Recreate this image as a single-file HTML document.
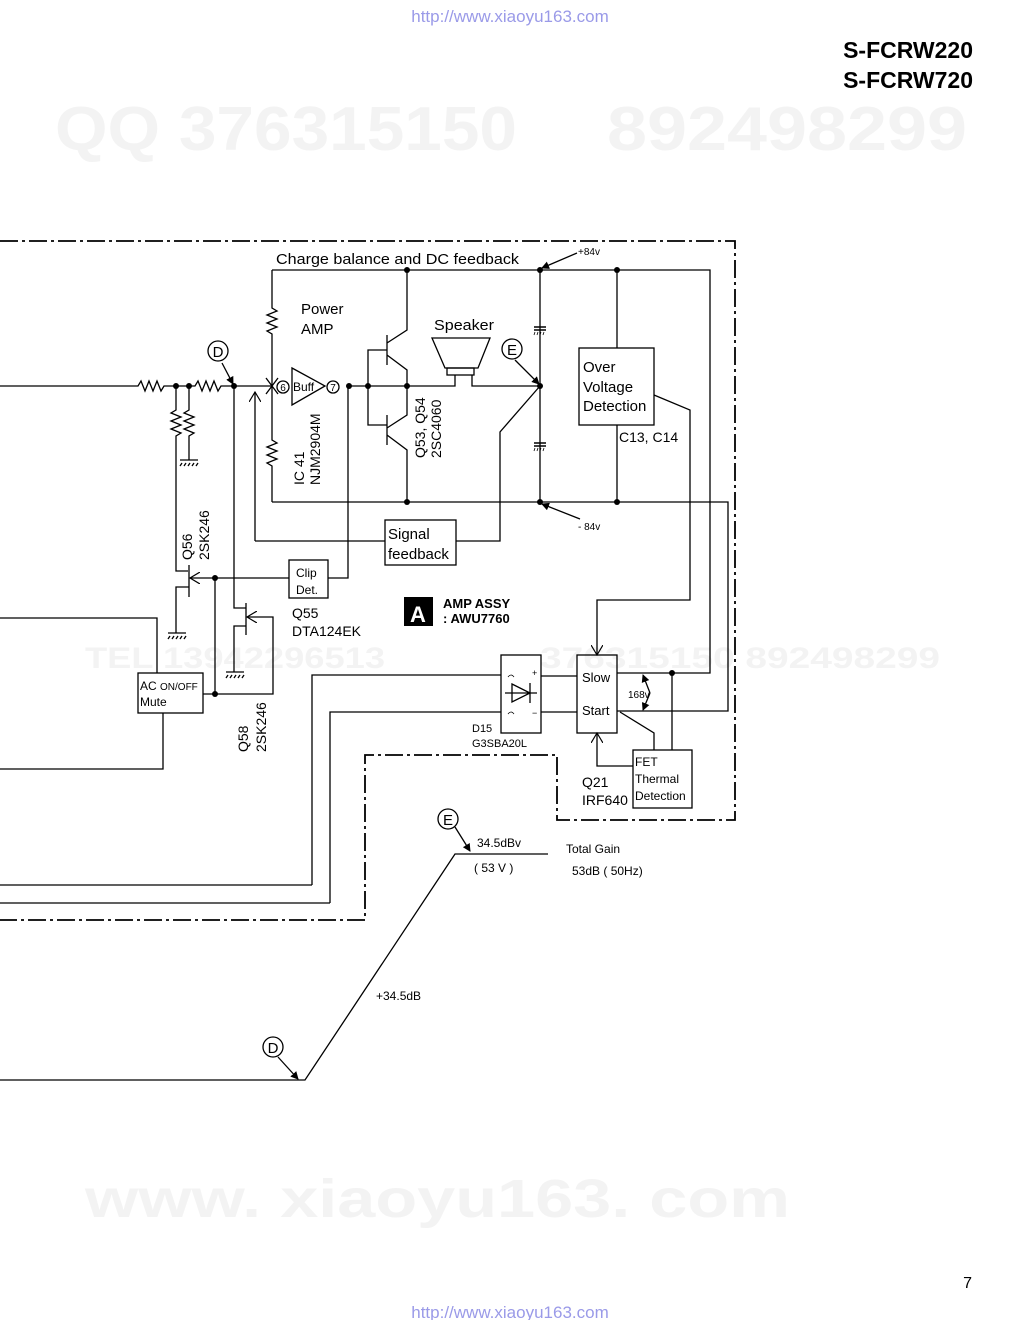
<!DOCTYPE html>
<html><head><meta charset="utf-8"><style>
body{margin:0;background:#fff}
svg{display:block}
text{font-family:"Liberation Sans",sans-serif;fill:#000}
</style></head><body>
<svg width="1020" height="1320" viewBox="0 0 1020 1320" xmlns="http://www.w3.org/2000/svg">
<defs>
<marker id="ah" markerWidth="8" markerHeight="8" refX="7" refY="4" orient="auto" markerUnits="userSpaceOnUse"><path d="M0,0 L8,4 L0,8 z" fill="#000"/></marker>
<marker id="av" markerWidth="12" markerHeight="12" refX="10" refY="6" orient="auto" markerUnits="userSpaceOnUse"><path d="M0,0 L10,6 L0,12" fill="none" stroke="#000" stroke-width="1.2"/></marker>
</defs>
<!-- watermark -->
<text x="55" y="150" font-size="62" font-weight="bold" textLength="462" lengthAdjust="spacingAndGlyphs" style="fill:#f3f3f3">QQ 376315150</text>
<text x="607" y="150" font-size="62" font-weight="bold" textLength="360" lengthAdjust="spacingAndGlyphs" style="fill:#f3f3f3">892498299</text>
<text x="85" y="1217" font-size="54" font-weight="bold" textLength="705" lengthAdjust="spacingAndGlyphs" style="fill:#f3f3f3">www. xiaoyu163. com</text>
<text x="85" y="668" font-size="30" font-weight="bold" textLength="300" lengthAdjust="spacingAndGlyphs" style="fill:#f3f3f3">TEL 13942296513</text>
<text x="540" y="668" font-size="30" font-weight="bold" textLength="400" lengthAdjust="spacingAndGlyphs" style="fill:#f3f3f3">376315150  892498299</text>

<text x="510" y="22" font-size="17" text-anchor="middle" style="fill:#9a9ae8">http://www.xiaoyu163.com</text>
<text x="510" y="1318" font-size="17" text-anchor="middle" style="fill:#9a9ae8">http://www.xiaoyu163.com</text>
<text x="973" y="58" font-size="23" font-weight="bold" text-anchor="end">S-FCRW220</text>
<text x="973" y="88" font-size="23" font-weight="bold" text-anchor="end">S-FCRW720</text>
<text x="972" y="1288" font-size="16" text-anchor="end">7</text>

<g fill="none" stroke="#000" stroke-width="1.3">
<path d="M0,241 H735 V820 H557 V755 H365 V920 H0" stroke-width="1.8" stroke-dasharray="18,4,3,4"/>
<path d="M272,270 H710 V673 H617"/>
<path d="M272,502 H728 V711 H617"/>
<path d="M540,270 V502"/>
<path d="M617,270 V348 M617,425 V502"/>
<rect x="579" y="348" width="75" height="77"/>
<path d="M654,395 L690,410 V600 H597 V655" marker-end="url(#av)"/>
<path d="M272,270 V308 l5,3 l-10,4 l10,4 l-10,4 l10,4 l-10,4 l5,3 V440 l5,3 l-10,4 l10,4 l-10,4 l10,4 l-10,4 l5,3 V502"/>
<path d="M407,270 V330 L387,343 M387,335 V365 M387,355 L407,370 V386 V415 L387,428 M387,415 V445 M387,435 L407,450 V502"/>
<path d="M387,350 H368 V425 H387"/>
<path d="M349,386 H407 M455,375 V386 H407 M472,375 V386 H540"/>
<path d="M432,338 H490 L478,368 H445 Z"/>
<rect x="447" y="368" width="27" height="7"/>
<path d="M534,327 H546 M534,330 H546 M534,443 H546 M534,446 H546" stroke-width="1.5"/>
<path d="M535,332 l-1,3 M538,332 l-1,3 M541,332 l-1,3 M544,332 l-1,3 M535,448 l-1,3 M538,448 l-1,3 M541,448 l-1,3 M544,448 l-1,3" stroke-width="0.8"/>
<path d="M0,386 H138 l3,-5 l4,10 l4,-10 l4,10 l4,-10 l4,10 l3,-5 H195 l3,-5 l4,10 l4,-10 l4,10 l4,-10 l4,10 l3,-5 H272"/>
<path d="M176,386 V410 l-5,3 l10,4 l-10,4 l10,4 l-10,4 l10,4 l-5,3 V571 H188"/>
<path d="M189,386 V410 l-5,3 l10,4 l-10,4 l10,4 l-10,4 l10,4 l-5,3 V460"/>
<path d="M180,460 H198 M182,463 L180,466 M186,463 L184,466 M190,463 L188,466 M194,463 L192,466 M198,463 L196,466"/>
<path d="M266,378 L278,394 M278,378 L266,394"/>
<path d="M292,368 L325,386 L292,405 Z"/>
<circle cx="283" cy="387" r="6"/><circle cx="333" cy="387" r="6"/>
<path d="M255,541 V392" marker-end="url(#av)"/>
<path d="M255,541 H385"/>
<rect x="385" y="520" width="71" height="45"/>
<path d="M456,541 H500 V432 L540,386"/>
<rect x="289" y="560" width="39" height="38"/>
<path d="M328,578 H348 V386"/>
<path d="M289,578 H190" marker-end="url(#av)"/>
<path d="M189,565 V597 M189,587 H176 V633"/>
<path d="M168,633 H186 M170,636 L168,639 M174,636 L172,639 M178,636 L176,639 M182,636 L180,639 M186,636 L184,639"/>
<path d="M215,578 V694 H203 M215,694 H273 V617 H247" marker-end="url(#av)"/>
<path d="M234,386 V608 H246 M246,603 V635 M246,626 H234 V672"/>
<path d="M226,672 H244 M228,675 L226,678 M232,675 L230,678 M236,675 L234,678 M240,675 L238,678 M244,675 L242,678"/>
<rect x="138" y="673" width="65" height="40"/>
<path d="M0,618 H157 V673 M163,713 V769 H0"/>
<rect x="501" y="655" width="40" height="78"/>
<path d="M312,885 V675 H501 M0,885 H312 M330,903 V712 H501 M0,903 H330"/>
<path d="M541,676 H577 M541,712 H577"/>
<path d="M512,684 L530,693 L512,702 Z M505,693 H537 M530,683 V703"/>
<path d="M508,677 q3,-4 6,0 M508,714 q3,-4 6,0" stroke-width="0.8"/>
<rect x="577" y="655" width="40" height="78"/>
<rect x="633" y="750" width="59" height="58"/>
<path d="M672,673 V750 M620,712 L654,733 V750"/>
<path d="M633,766 H597 V733" marker-end="url(#av)"/>
<path d="M650,693 L643,675" marker-end="url(#ah)"/>
<path d="M650,693 L643,710" marker-end="url(#ah)"/>
<path d="M577,253 L542,268" marker-end="url(#ah)"/>
<path d="M580,519 L542,504" marker-end="url(#ah)"/>
<path d="M515,360 L539,384" marker-end="url(#ah)"/>
<path d="M222,363 L233,384" marker-end="url(#ah)"/>
<path d="M0,1080 H305 L455,854 H548"/>
<path d="M455,827 L470,851" marker-end="url(#ah)"/>
<path d="M278,1057 L298,1079" marker-end="url(#ah)"/>
<circle cx="218" cy="351" r="10"/><circle cx="512" cy="349" r="10"/>
<circle cx="448" cy="819" r="10"/><circle cx="273" cy="1047" r="10"/>
</g>
<g fill="#000">
<circle cx="540" cy="270" r="3"/><circle cx="617" cy="270" r="3"/><circle cx="407" cy="270" r="3"/>
<circle cx="540" cy="386" r="3"/><circle cx="540" cy="502" r="3"/><circle cx="617" cy="502" r="3"/><circle cx="407" cy="502" r="3"/>
<circle cx="407" cy="386" r="3"/><circle cx="368" cy="386" r="3"/><circle cx="349" cy="386" r="3"/>
<circle cx="176" cy="386" r="3"/><circle cx="189" cy="386" r="3"/><circle cx="234" cy="386" r="3"/>
<circle cx="215" cy="578" r="3"/><circle cx="215" cy="694" r="3"/><circle cx="672" cy="673" r="3"/>
</g>
<text x="276" y="264" font-size="15" textLength="243" lengthAdjust="spacingAndGlyphs">Charge balance and DC feedback</text>
<text x="578" y="255" font-size="10">+84v</text>
<text x="578" y="530" font-size="10">- 84v</text>
<text x="301" y="314" font-size="15">Power</text>
<text x="301" y="334" font-size="15">AMP</text>
<text x="434" y="330" font-size="15" textLength="60" lengthAdjust="spacingAndGlyphs">Speaker</text>
<text x="218" y="357" font-size="15" text-anchor="middle">D</text>
<text x="512" y="355" font-size="15" text-anchor="middle">E</text>
<text x="448" y="825" font-size="15" text-anchor="middle">E</text>
<text x="273" y="1053" font-size="15" text-anchor="middle">D</text>
<text x="283" y="391" font-size="10" text-anchor="middle">6</text>
<text x="333" y="391" font-size="10" text-anchor="middle">7</text>
<text x="293" y="391" font-size="12">Buff</text>
<text transform="translate(304,485) rotate(-90)" font-size="14">IC 41</text>
<text transform="translate(320,485) rotate(-90)" font-size="14">NJM2904M</text>
<text transform="translate(425,458) rotate(-90)" font-size="14">Q53, Q54</text>
<text transform="translate(441,458) rotate(-90)" font-size="14">2SC4060</text>
<text transform="translate(192,560) rotate(-90)" font-size="14">Q56</text>
<text transform="translate(209,560) rotate(-90)" font-size="14">2SK246</text>
<text transform="translate(248,752) rotate(-90)" font-size="14">Q58</text>
<text transform="translate(266,752) rotate(-90)" font-size="14">2SK246</text>
<text x="583" y="372" font-size="15">Over</text>
<text x="583" y="392" font-size="15">Voltage</text>
<text x="583" y="411" font-size="15">Detection</text>
<text x="619" y="442" font-size="14">C13, C14</text>
<text x="388" y="539" font-size="15">Signal</text>
<text x="388" y="559" font-size="15">feedback</text>
<text x="296" y="577" font-size="12">Clip</text>
<text x="296" y="594" font-size="12">Det.</text>
<text x="292" y="618" font-size="14">Q55</text>
<text x="292" y="636" font-size="14">DTA124EK</text>
<rect x="404" y="597" width="29" height="29" fill="#000"/>
<text x="418" y="622" font-size="22" font-weight="bold" text-anchor="middle" style="fill:#fff">A</text>
<text x="443" y="608" font-size="13" font-weight="bold">AMP ASSY</text>
<text x="443" y="623" font-size="13" font-weight="bold">: AWU7760</text>
<text x="140" y="690" font-size="12">AC <tspan font-size="10">ON/OFF</tspan></text>
<text x="140" y="706" font-size="12">Mute</text>
<text x="532" y="676" font-size="9">+</text>
<text x="532" y="716" font-size="9">−</text>
<text x="472" y="732" font-size="11">D15</text>
<text x="472" y="747" font-size="11">G3SBA20L</text>
<text x="582" y="682" font-size="13">Slow</text>
<text x="582" y="715" font-size="13">Start</text>
<text x="628" y="698" font-size="10">168v</text>
<text x="582" y="787" font-size="14">Q21</text>
<text x="582" y="805" font-size="14">IRF640</text>
<text x="635" y="766" font-size="12">FET</text>
<text x="635" y="783" font-size="12">Thermal</text>
<text x="635" y="800" font-size="12">Detection</text>
<text x="477" y="847" font-size="12">34.5dBv</text>
<text x="474" y="872" font-size="12">( 53 V )</text>
<text x="566" y="853" font-size="12">Total Gain</text>
<text x="572" y="875" font-size="12">53dB ( 50Hz)</text>
<text x="376" y="1000" font-size="12">+34.5dB</text>
</svg>
</body></html>
